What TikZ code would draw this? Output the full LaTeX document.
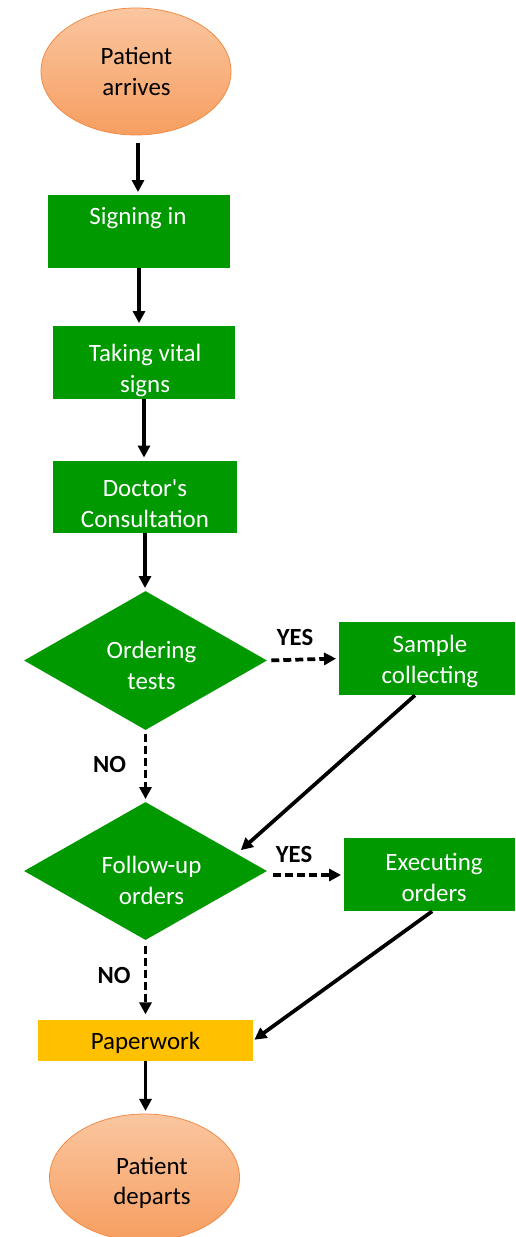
\documentclass[tikz,border=0pt]{standalone}
\usepackage{fontspec}
\setmainfont{Carlito}[Ligatures=TeXOff]
\usetikzlibrary{shapes.geometric,arrows.meta,calc}
\definecolor{boxgreen}{RGB}{0,153,0}
\definecolor{paperyellow}{RGB}{255,192,0}
\definecolor{ovaltop}{RGB}{250,198,160}
\definecolor{ovalbot}{RGB}{247,158,96}
\definecolor{ovalline}{RGB}{240,140,70}
% centred block of lines, moved right by #1 and down by #2 inside its shape
\newcommand\boxtext[3]{\makebox[0pt]{\kern#1\kern#1\raisebox{-#2}[0pt][0pt]{\begin{tabular}{@{}c@{}}#3\end{tabular}}}}
\begin{document}
\begin{tikzpicture}[x=0.75pt,y=-0.75pt,
  every node/.style={font=\fontsize{18.7}{23}\selectfont},
  oval/.style={ellipse,draw=ovalline,line width=0.6pt,top color=ovaltop,bottom color=ovalbot,
    text=black,inner sep=0pt},
  greenbox/.style={rectangle,fill=boxgreen,text=white,inner sep=0pt},
  decide/.style={diamond,fill=boxgreen,text=white,inner sep=0pt},
  flow/.style={line width=2.8pt,-{Triangle[length=9pt,width=9pt]}},
  flowdash/.style={flow,dash pattern=on 6pt off 3pt},
  answer/.style={font=\fontsize{18.5}{22}\selectfont\bfseries,text=black,inner sep=0pt}]
\useasboundingbox (0,0) rectangle (515,1237);

% process steps
\node[oval,minimum width=190*0.75pt,minimum height=127*0.75pt] (start) at (136,71.5)
  {\boxtext{0.4pt}{6.3pt}{Patient\\arrives}};
\node[greenbox,minimum width=182*0.75pt,minimum height=73*0.75pt] (sign) at (139,231.5)
  {\boxtext{-0.8pt}{-5.7pt}{Signing in}};
\node[greenbox,minimum width=182*0.75pt,minimum height=73*0.75pt] (vital) at (144,362.5)
  {\boxtext{0.8pt}{10.8pt}{Taking vital\\signs}};
\node[greenbox,minimum width=184*0.75pt,minimum height=72*0.75pt] (doctor) at (145,496.5)
  {\boxtext{0pt}{11.1pt}{Doctor's\\Consultation}};
\node[decide,minimum width=243*0.75pt,minimum height=139*0.75pt] (tests) at (145.5,660.5)
  {\boxtext{4.5pt}{9.7pt}{Ordering\\tests}};
\node[greenbox,minimum width=176*0.75pt,minimum height=73*0.75pt] (sample) at (427,658.5)
  {\boxtext{2.2pt}{7pt}{Sample\\collecting}};
\node[decide,minimum width=243*0.75pt,minimum height=138*0.75pt] (follow) at (145.5,871)
  {\boxtext{4.5pt}{13.2pt}{Follow-up\\orders}};
\node[greenbox,minimum width=171*0.75pt,minimum height=73*0.75pt] (exec) at (429.5,874.5)
  {\boxtext{3.4pt}{8.2pt}{Executing\\orders}};
\node[rectangle,fill=paperyellow,text=black,inner sep=0pt,minimum width=215*0.75pt,minimum height=41*0.75pt] (paper) at (145.5,1040.5)
  {\boxtext{0pt}{6.7pt}{Paperwork}};
\node[oval,minimum width=190*0.75pt,minimum height=127*0.75pt] (finish) at (144.5,1177.5)
  {\boxtext{5.6pt}{8.6pt}{Patient\\departs}};

% decision labels
\node[answer] (yes1) at (295,637.5) {YES};
\node[answer] (no1) at (109.5,764.5) {NO};
\node[answer] (yes2) at (294,854) {YES};
\node[answer] (no2) at (114,975) {NO};

% main flow
\draw[flow,shorten <=6pt,shorten >=2pt] ([xshift=1.5pt]start.south) -- ([xshift=1.5pt]start.south |- sign.north);
\draw[flow,shorten >=2pt] (sign.south) -- (sign.south |- vital.north);
\draw[flow,shorten >=2pt] (vital.south) -- (vital.south |- doctor.north);
\draw[flow,shorten >=2pt] (doctor.south) -- (doctor.south |- tests.north);

% decisions and their branches
\draw[flowdash,shorten <=3pt,shorten >=2pt] (tests.south) -- (follow.north);
\draw[flowdash,shorten <=3pt,shorten >=2pt] (tests.east) -- (sample.west);
\draw[flow,shorten >=4pt] ([xshift=-9pt]sample.south) -- ($(follow.north)!0.75!(follow.east)$);
\draw[flowdash,shorten <=4pt,shorten >=2pt] ([yshift=-3pt]follow.east) -- ([yshift=-3pt]follow.east -| exec.west);
\draw[flow,shorten >=1pt] ([xshift=2pt]exec.south) -- (paper.east);
\draw[flowdash,shorten <=4pt,shorten >=4pt] (follow.south) -- (paper.north);
\draw[flow,shorten >=2pt] (paper.south) -- (paper.south |- finish.north);
\end{tikzpicture}
\end{document}
